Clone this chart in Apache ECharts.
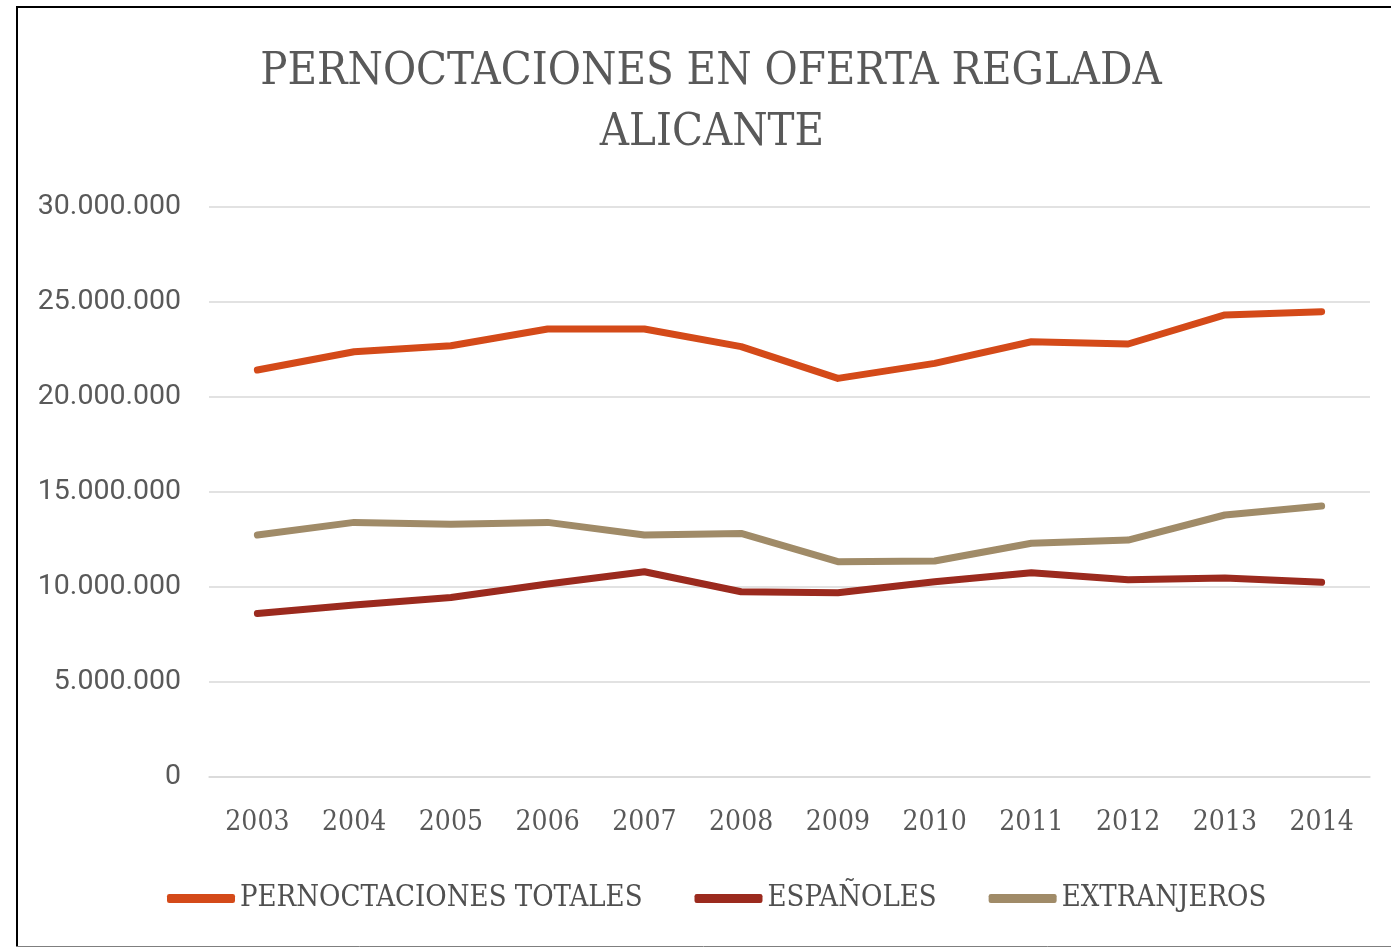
<!DOCTYPE html>
<html><head><meta charset="utf-8">
<script src="https://cdn.jsdelivr.net/npm/echarts@6/dist/echarts.min.js"></script>
<style>html,body{margin:0;padding:0;background:#fff}#c{width:1391px;height:949px}</style>
</head><body><div id="c"></div>
<script>
const years = ['2003','2004','2005','2006','2007','2008','2009','2010','2011','2012','2013','2014'];
const totales = [21420000,22380000,22700000,23580000,23580000,22650000,20980000,21770000,22910000,22790000,24320000,24490000];
const espanoles = [8610000,9050000,9450000,10160000,10800000,9750000,9700000,10280000,10750000,10380000,10470000,10250000];
const extranjeros = [12740000,13400000,13300000,13400000,12740000,12820000,11330000,11370000,12300000,12470000,13790000,14260000];
const seriesNames = ['PERNOCTACIONES TOTALES','ESPAÑOLES','EXTRANJEROS'];
const titleLines = ['PERNOCTACIONES EN OFERTA REGLADA','ALICANTE'];
const colors = ['#D44A19','#9B2A1E','#A08B68'];

const serifC = '"DejaVu Serif Condensed","DejaVu Serif",serif';
function fmt(v){ return String(v).replace(/\B(?=(\d{3})+(?!\d))/g,'.'); }

const chart = echarts.init(document.getElementById('c'));
const mk = (name, data, color) => ({
  name, type:'line', data, symbol:'none', smooth:false,
  lineStyle:{color, width:7, cap:'round', join:'round'},
  itemStyle:{color}
});
chart.setOption({
  animation:false,
  color: colors,
  grid:{left:209,right:21,top:207,bottom:172,containLabel:false},
  xAxis:{type:'category',data:years,boundaryGap:true,
    axisLine:{show:true,lineStyle:{color:'#D9D9D9',width:1.5}},
    axisTick:{show:false},
    axisLabel:{margin:32,color:'#595959',fontFamily:serifC,fontSize:28}},
  yAxis:{type:'value',min:0,max:30000000,interval:5000000,
    axisLine:{show:false},axisTick:{show:false},
    splitLine:{lineStyle:{color:'#D9D9D9',width:1.5}},
    axisLabel:{margin:28,color:'#595959',fontFamily:'Roboto',fontSize:28.5,lineHeight:34,verticalAlign:'middle',padding:[4,0,0,0],formatter:fmt}},
  legend:{bottom:31,left:162,itemWidth:68,itemHeight:9,itemGap:52,icon:'roundRect',
    textStyle:{color:'#505050',fontFamily:serifC,fontSize:29},
    data:seriesNames},
  series:[mk(seriesNames[0],totales,colors[0]),mk(seriesNames[1],espanoles,colors[1]),mk(seriesNames[2],extranjeros,colors[2])],
  graphic:[
    {type:'line',shape:{x1:16,y1:7,x2:1391,y2:7},style:{stroke:'#000',lineWidth:2}},
    {type:'line',shape:{x1:17,y1:6,x2:17,y2:947},style:{stroke:'#000',lineWidth:2}},
    {type:'line',shape:{x1:16,y1:946.5,x2:1391,y2:946.5},style:{stroke:'#7f7f7f',lineWidth:1}},
    {type:'text',x:711,y:72,style:{text:titleLines[0],fill:'#595959',font:'45px '+serifC,textAlign:'center',textVerticalAlign:'middle'}},
    {type:'text',x:712,y:133,style:{text:titleLines[1],fill:'#595959',font:'45px '+serifC,textAlign:'center',textVerticalAlign:'middle'}}
  ]
});
</script></body></html>
